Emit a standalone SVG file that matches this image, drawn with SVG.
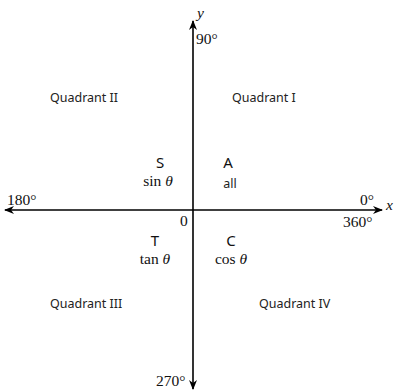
<svg xmlns="http://www.w3.org/2000/svg" width="394" height="392" viewBox="0 0 394 392">
<style>
.s{font-family:"Noto Sans","DejaVu Sans",sans-serif;font-size:12.5px;fill:#222}
.b{font-family:"Noto Sans","DejaVu Sans",sans-serif;font-size:15px;fill:#111}
.m{font-family:"Liberation Serif",serif;font-size:15.5px;fill:#111}
.i{font-style:italic}
.ax{stroke:#000;stroke-width:1.6;fill:none}
</style>
<defs>
<marker id="ah" markerWidth="10" markerHeight="8" refX="9" refY="4" orient="auto" markerUnits="userSpaceOnUse">
<path d="M0,0 L10,4 L0,8 L3,4 Z" fill="#000"/>
</marker>
</defs>
<rect width="394" height="392" fill="#fff"/>
<g id="connectors">
<line class="ax" x1="193" y1="210" x2="193" y2="21" marker-end="url(#ah)"/>
<line class="ax" x1="193" y1="210" x2="193" y2="389" marker-end="url(#ah)"/>
<line class="ax" x1="193" y1="210" x2="5" y2="210" marker-end="url(#ah)"/>
<line class="ax" x1="193" y1="210" x2="382" y2="210" marker-end="url(#ah)"/>
</g>
<g id="axis-labels">
<text class="m i" x="197" y="18">y</text>
<text class="m" x="196" y="44">90°</text>
<text class="m" x="7" y="205">180°</text>
<text class="m" x="360" y="205">0°</text>
<text class="m i" x="386" y="210">x</text>
<text class="m" x="343" y="227">360°</text>
<text class="m" x="180" y="226">0</text>
<text class="m" x="156" y="386">270°</text>
</g>
<g id="q1"><text class="s" x="232" y="102">Quadrant I</text></g>
<g id="q2"><text class="s" x="50" y="102">Quadrant II</text></g>
<g id="q3"><text class="s" x="50" y="308">Quadrant III</text></g>
<g id="q4"><text class="s" x="259" y="308">Quadrant IV</text></g>
<g id="S"><text class="b" x="160" y="168" text-anchor="middle">S</text><text class="m" x="158" y="186" text-anchor="middle">sin <tspan class="i">θ</tspan></text></g>
<g id="A"><text class="b" x="228" y="168" text-anchor="middle">A</text><text class="s" x="230" y="188" text-anchor="middle">all</text></g>
<g id="T"><text class="b" x="155" y="246" text-anchor="middle">T</text><text class="m" x="155" y="264" text-anchor="middle">tan <tspan class="i">θ</tspan></text></g>
<g id="C"><text class="b" x="231" y="246" text-anchor="middle">C</text><text class="m" x="231" y="264" text-anchor="middle">cos <tspan class="i">θ</tspan></text></g>
</svg>
